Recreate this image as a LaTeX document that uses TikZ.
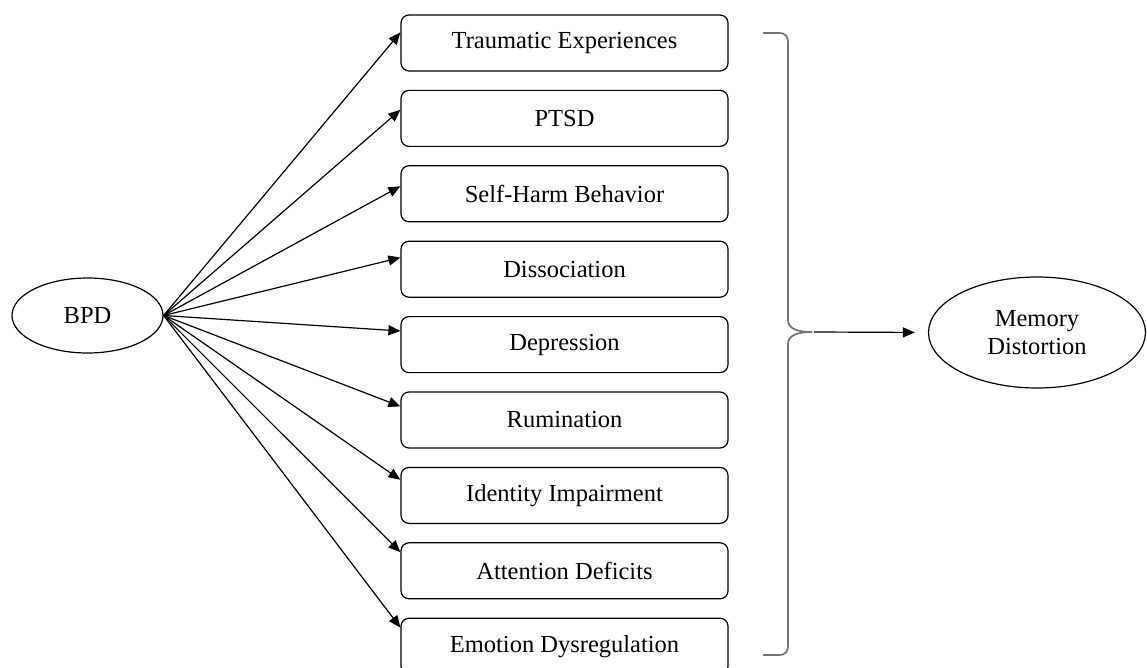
\documentclass[tikz,border=0pt]{standalone}
\usepackage{fontspec}
\setmainfont{Liberation Serif}
\usetikzlibrary{shapes.geometric,arrows.meta,calc}
\begin{document}
\begin{tikzpicture}[x=1pt,y=-1pt,
    factor/.style={draw,rounded corners=8pt,minimum width=327pt,minimum height=56pt,inner sep=0pt,line width=1.2pt,font=\fontsize{24.5}{28}\selectfont},
    oval/.style={draw,ellipse,inner sep=0pt,line width=1.2pt,font=\fontsize{24.5}{28}\selectfont,align=center},
    link/.style={-{Triangle[length=12pt,width=10pt]},line width=1.2pt}]
  \useasboundingbox (0,0) rectangle (1147,668);
  \clip (0,0) rectangle (1147,668);
  \node[oval,minimum width=151pt,minimum height=75pt] (bpd) at (87.5,315.5) {BPD};
  \node[oval,minimum width=217pt,minimum height=111pt] (memory) at (1037,332.5) {Memory\\Distortion};
  \foreach \name/\txt/\dy [count=\i from 0] in {trauma/Traumatic Experiences/18, ptsd/PTSD/20, selfharm/Self-Harm Behavior/21, dissoc/Dissociation/17, depress/Depression/15, rumin/Rumination/15, identity/Identity Impairment/13, attention/Attention Deficits/10, emotion/Emotion Dysregulation/10}
  {
    \node[factor] (\name) at (564.5,43+75.4*\i) {\txt};
    \draw[link] (bpd.east) -- ($(\name.north west)+(0,\dy)$);
  }
  \draw[gray!90!black,line width=1.7pt] (763,33) -- (778,33) .. controls (786,33) and (788,36) .. (788,44)
    -- (788,320) .. controls (788,329) and (798,332) .. (812,332)
    .. controls (798,332) and (788,335) .. (788,344)
    -- (788,644) .. controls (788,652) and (786,655) .. (778,655) -- (763,655);
  \coordinate (bracetip) at (814,332);
  \draw[link,shorten >=13pt] (bracetip) -- (memory.west);
\end{tikzpicture}
\end{document}
